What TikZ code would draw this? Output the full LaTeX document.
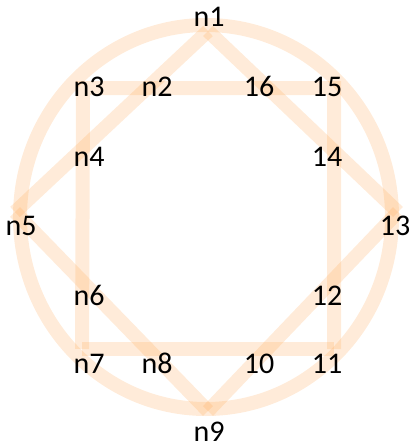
\documentclass[tikz,border=0pt]{standalone}
\usepackage{fontspec}
\setmainfont{Carlito}
\definecolor{bandcol}{RGB}{255,165,80}
\begin{document}
\begin{tikzpicture}[x=1pt,y=-1pt,
  band/.style={line width=14pt, draw=bandcol, draw opacity=0.22, line cap=butt, line join=miter},
  lbl/.style={font=\fontsize{30}{30}\selectfont, anchor=base, inner sep=0pt, text=black}]
\useasboundingbox (0,0) rectangle (411,447);
% geometry vertices
\coordinate (cc) at (206,217);
\coordinate (d1) at (208,31);
\coordinate (d5) at (15,212);
\coordinate (d9) at (208,411);
\coordinate (d13) at (398,212);
\coordinate (s3) at (83,88);
\coordinate (s15) at (334,88);
\coordinate (s7) at (82,349);
\coordinate (s11) at (334,349);
% circle
\draw[band] (cc) ellipse [x radius=186, y radius=192];
% diamond
\draw[band] (d1) -- (d5);
\draw[band] (d5) -- (d9);
\draw[band] (d9) -- (d13);
\draw[band] (d13) -- (d1);
% square
\draw[band] (s7) -- (s3) -- (s15) -- (s11);
\draw[band] (s11) -- (s7);
% labels
\node[lbl] (n1) at (209,27) {n1};
\node[lbl] (n3) at (89,96) {n3};
\node[lbl] (n2) at (157,96) {n2};
\node[lbl] (l16) at (259,96) {16};
\node[lbl] (l15) at (327,96) {15};
\node[lbl] (n4) at (89,166) {n4};
\node[lbl] (l14) at (327,166) {14};
\node[lbl] (n5) at (21,235) {n5};
\node[lbl] (l13) at (395,235) {13};
\node[lbl] (n6) at (89,305) {n6};
\node[lbl] (l12) at (327,305) {12};
\node[lbl] (n7) at (89,373) {n7};
\node[lbl] (n8) at (157,373) {n8};
\node[lbl] (l10) at (259,373) {10};
\node[lbl] (l11) at (327,373) {11};
\node[lbl] (n9) at (209,441) {n9};
\end{tikzpicture}
\end{document}
